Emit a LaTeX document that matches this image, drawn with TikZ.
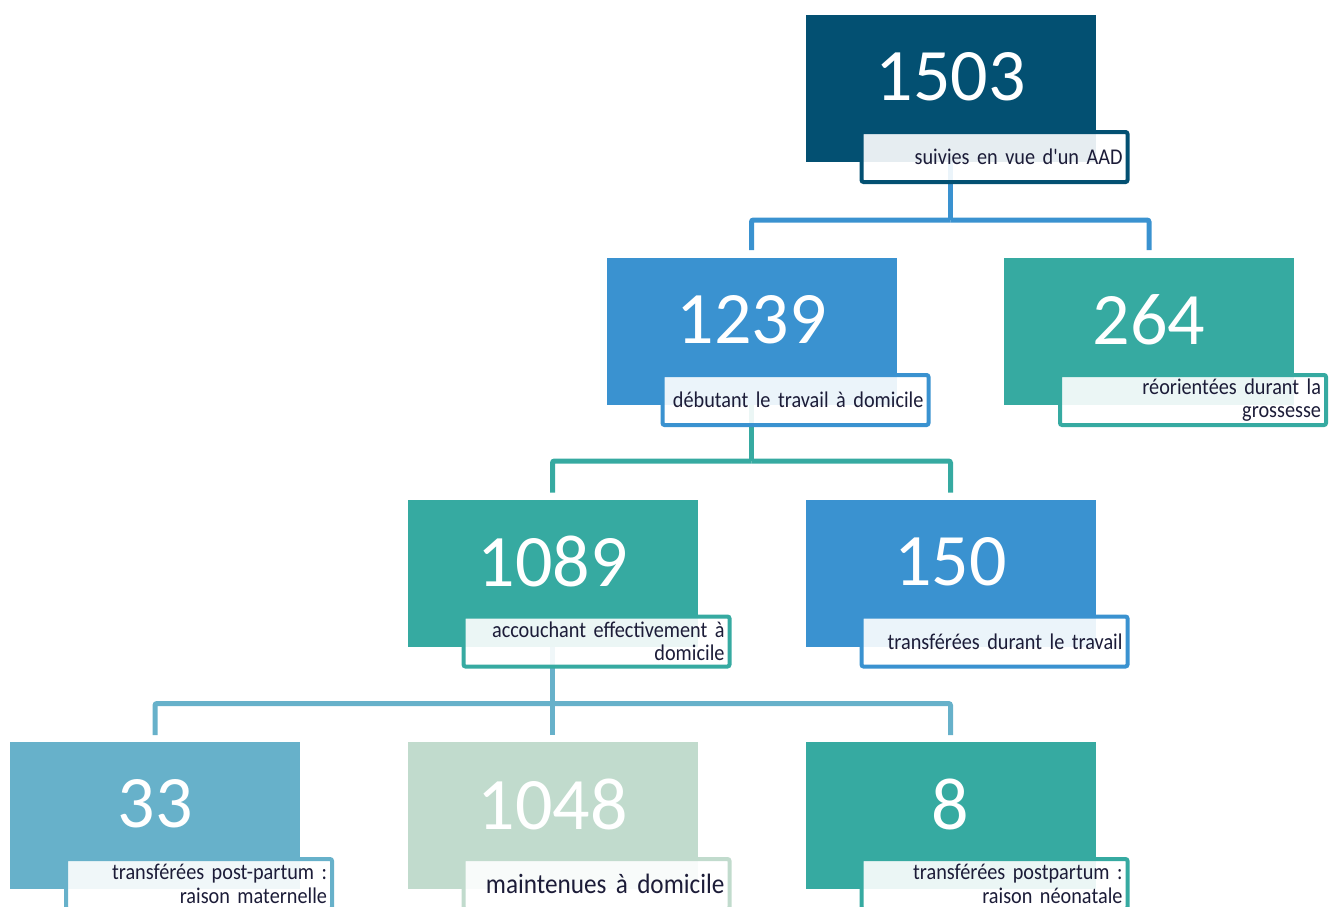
\documentclass[tikz,border=0pt]{standalone}
\usepackage{fontspec}
\setmainfont{Carlito}
\newfontfamily\tagfont{Carlito}[FakeStretch=0.9]
\usetikzlibrary{backgrounds}
\definecolor{aadblue}{RGB}{3,80,114}
\definecolor{midblue}{RGB}{58,146,208}
\definecolor{teal}{RGB}{54,170,161}
\definecolor{skyblue}{RGB}{103,177,202}
\definecolor{sage}{RGB}{193,219,205}
\definecolor{tagtext}{RGB}{28,28,56}
\tikzset{
  numbox/.style={rectangle, fill=#1, minimum width=290pt, minimum height=147pt, inner sep=0pt, outer sep=0pt},
  numtext/.style={text=white, font=\fontsize{74}{74}\selectfont, inner sep=0pt},
  tagbox/.style={rectangle, draw=#1, line width=4pt, rounded corners=2pt, fill=white, fill opacity=0.9, text opacity=1,
    minimum width=266pt, minimum height=50pt, text width=256pt, inner xsep=5pt, inner ysep=2pt, align=right,
    font=\tagfont\fontsize{22.5}{23.5}\selectfont, text=tagtext, anchor=south east, outer sep=0pt},
  link/.style={draw=#1, line width=5pt, rounded corners=2pt}
}
\begin{document}
\begin{tikzpicture}[x=1pt, y=-1pt]
\useasboundingbox (0,0) rectangle (1339,907);
\clip (0,0) rectangle (1339,907);
% level 0
\node[numbox=aadblue] (aad) at (950.5,88.5) {};
\node[numtext] (aad-num) at ([yshift=11.5pt]aad.center) {1503};
\node[tagbox=aadblue] (aad-tag) at ([xshift=32pt,yshift=-20pt]aad.south east) {suivies en vue d'un AAD};
% level 1
\node[numbox=midblue] (trav) at (751.5,331.5) {};
\node[numtext] (trav-num) at ([yshift=11.5pt]trav.center) {1239};
\node[tagbox=midblue] (trav-tag) at ([xshift=32pt,yshift=-20pt]trav.south east) {débutant le travail à domicile};
\node[numbox=teal] (reor) at (1149,331.5) {};
\node[numtext] (reor-num) at ([yshift=11.5pt]reor.center) {264};
\node[tagbox=teal] (reor-tag) at ([xshift=32pt,yshift=-20pt]reor.south east) {réorientées durant la\\grossesse};
% level 2
\node[numbox=teal] (acc) at (552.5,573) {};
\node[numtext] (acc-num) at ([yshift=11.5pt]acc.center) {1089};
\node[tagbox=teal] (acc-tag) at ([xshift=32pt,yshift=-20pt]acc.south east) {accouchant effectivement à\\domicile};
\node[numbox=midblue] (transf) at (950.5,573) {};
\node[numtext] (transf-num) at ([yshift=11.5pt]transf.center) {150};
\node[tagbox=midblue] (transf-tag) at ([xshift=32pt,yshift=-20pt]transf.south east) {transférées durant le travail};
% level 3
\node[numbox=skyblue] (mat) at (155,815.5) {};
\node[numtext] (mat-num) at ([yshift=11.5pt]mat.center) {33};
\node[tagbox=skyblue] (mat-tag) at ([xshift=32pt,yshift=-20pt]mat.south east) {transférées post-partum :\\raison maternelle};
\node[numbox=sage] (dom) at (552.5,815.5) {};
\node[numtext] (dom-num) at ([yshift=11.5pt]dom.center) {1048};
\node[tagbox=sage, font=\tagfont\fontsize{28}{30}\selectfont] (dom-tag) at ([xshift=32pt,yshift=-20pt]dom.south east) {maintenues à domicile};
\node[numbox=teal] (neo) at (950.5,815.5) {};
\node[numtext] (neo-num) at ([yshift=11.5pt]neo.center) {8};
\node[tagbox=teal] (neo-tag) at ([xshift=32pt,yshift=-20pt]neo.south east) {transférées postpartum :\\raison néonatale};
% connectors
\begin{scope}[on background layer]
\draw[link=midblue] (aad.south) -- ([yshift=-58pt]aad.south) coordinate (aad-split);
\draw[link=midblue] (aad-split) -| ([yshift=8pt]trav.north);
\draw[link=midblue] (aad-split) -| ([yshift=8pt]reor.north);
\draw[link=teal] (trav.south) -- ([yshift=-56pt]trav.south) coordinate (trav-split);
\draw[link=teal] (trav-split) -| ([yshift=7pt]acc.north);
\draw[link=teal] (trav-split) -| ([yshift=7pt]transf.north);
\draw[link=skyblue] (acc.south) -- ([yshift=-57pt]acc.south) coordinate (acc-split);
\draw[link=skyblue] (acc-split) -| ([yshift=7pt]mat.north);
\draw[link=skyblue] (acc-split) -- ([yshift=7pt]dom.north);
\draw[link=skyblue] (acc-split) -| ([yshift=7pt]neo.north);
\end{scope}
\end{tikzpicture}
\end{document}
